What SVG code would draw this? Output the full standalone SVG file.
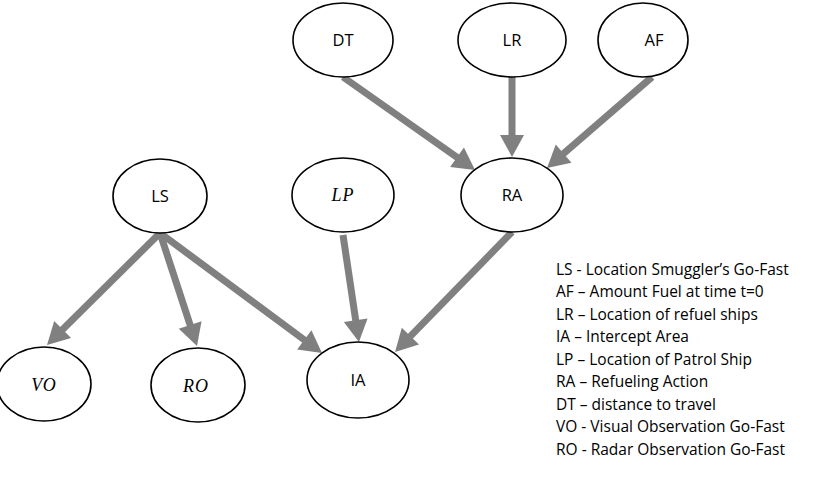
<svg xmlns="http://www.w3.org/2000/svg" width="819" height="492" viewBox="0 0 819 492">
<style>
.n ellipse{fill:#fff;stroke:#000;stroke-width:1.6}
.n text{font-family:"Open Sans","Liberation Sans",sans-serif;font-size:16.5px;text-anchor:middle;fill:#000}
.n text.m{font-family:"Liberation Serif",serif;font-style:italic;font-size:18px;letter-spacing:1px}
#edges line{stroke:#808080;stroke-width:7;marker-end:url(#ah)}
.lg{font-family:"Open Sans","Liberation Sans",sans-serif;font-size:15.5px;fill:#000}
</style>
<defs>
<marker id="ah" markerUnits="userSpaceOnUse" markerWidth="24" markerHeight="26" refX="4" refY="12" orient="auto" overflow="visible">
<path d="M0,0 L22,12 L0,24 z" fill="#808080"/>
</marker>
</defs>
<rect width="819" height="492" fill="#fff"/>
<g id="edges">
<line x1="343" y1="77" x2="460.3" y2="159.6"/>
<line x1="512" y1="77" x2="512" y2="139"/>
<line x1="652" y1="77" x2="560.6" y2="156.2"/>
<line x1="160" y1="233" x2="59.8" y2="332.3"/>
<line x1="160" y1="233" x2="191.4" y2="328.9"/>
<line x1="160" y1="233" x2="307.5" y2="342.3"/>
<line x1="343" y1="235" x2="356.3" y2="324.2"/>
<line x1="512" y1="232" x2="407.6" y2="339.1"/>
</g>
<g id="DT" class="n"><ellipse cx="343" cy="40" rx="50" ry="37"/><text x="343" y="46">DT</text></g>
<g id="LR" class="n"><ellipse cx="512" cy="40" rx="54" ry="37"/><text x="512" y="46">LR</text></g>
<g id="AF" class="n"><ellipse cx="643" cy="40" rx="45" ry="37"/><text x="654" y="46">AF</text></g>
<g id="RA" class="n"><ellipse cx="512" cy="195" rx="51" ry="37"/><text x="512" y="201">RA</text></g>
<g id="LP" class="n"><ellipse cx="343" cy="195" rx="51" ry="37"/><text class="m" x="343" y="201">LP</text></g>
<g id="LS" class="n"><ellipse cx="160" cy="196" rx="47" ry="37"/><text x="160" y="202">LS</text></g>
<g id="VO" class="n"><ellipse cx="44" cy="384" rx="47" ry="37"/><text class="m" x="44" y="391">VO</text></g>
<g id="RO" class="n"><ellipse cx="198" cy="385" rx="47" ry="37"/><text class="m" x="196" y="392">RO</text></g>
<g id="IA" class="n"><ellipse cx="358" cy="380" rx="51" ry="38"/><text x="358" y="386">IA</text></g>
<g id="legend">
<text class="lg" x="556" y="275">LS - Location Smuggler’s Go-Fast</text>
<text class="lg" x="556" y="297">AF – Amount Fuel at time t=0</text>
<text class="lg" x="556" y="320">LR – Location of refuel ships</text>
<text class="lg" x="556" y="342">IA – Intercept Area</text>
<text class="lg" x="556" y="365">LP – Location of Patrol Ship</text>
<text class="lg" x="556" y="387">RA – Refueling Action</text>
<text class="lg" x="556" y="410">DT – distance to travel</text>
<text class="lg" x="556" y="432">VO - Visual Observation Go-Fast</text>
<text class="lg" x="556" y="455">RO - Radar Observation Go-Fast</text>
</g>
</svg>
